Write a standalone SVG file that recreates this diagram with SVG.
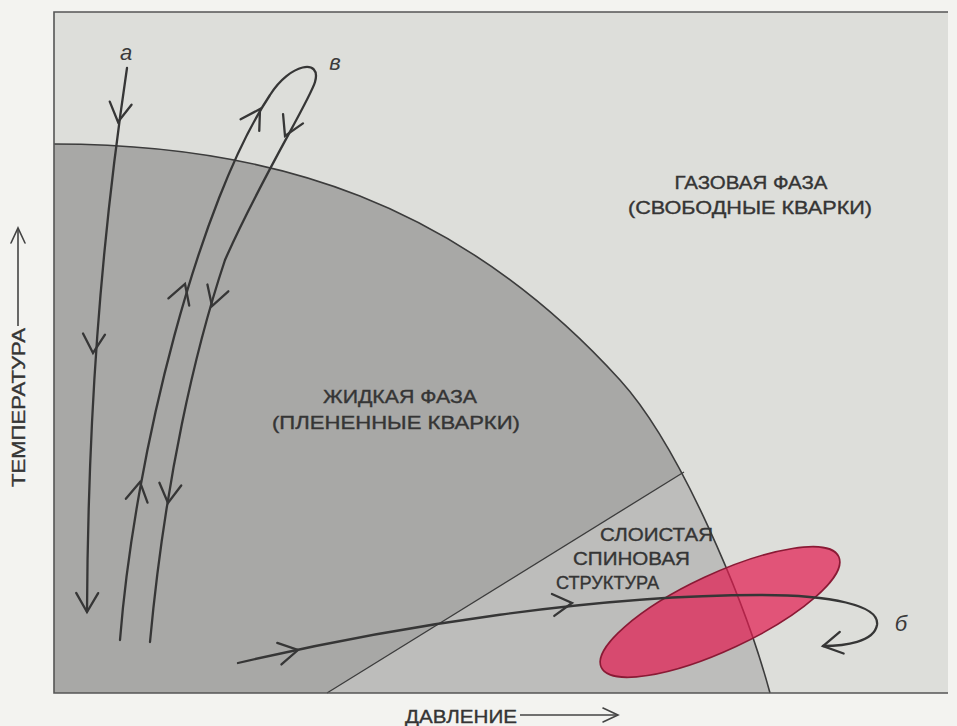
<svg xmlns="http://www.w3.org/2000/svg" xmlns:xlink="http://www.w3.org/1999/xlink" width="957" height="726" viewBox="0 0 957 726">
<style>
.traj{fill:none;stroke:#363636;stroke-width:2.3;stroke-linecap:round;stroke-linejoin:round}
.lbl{font-family:"Liberation Sans",Arial,sans-serif;fill:#353535;stroke:#353535;stroke-width:0.35;font-size:18px}
.it{font-family:"Liberation Sans",Arial,sans-serif;fill:#3a3a3a;font-style:italic;font-size:22px}
.bd{fill:none;stroke:#3c3c3c;stroke-width:1.6}
</style>
<defs>
<path id="chev" d="M-19,-11 L0,0 L-19,11" fill="none" stroke="#363636" stroke-width="2.3" stroke-linecap="round" stroke-linejoin="miter"/>
<path id="achev" d="M-15,-7 L0,0 L-15,7" fill="none" stroke="#444" stroke-width="1.6" stroke-linecap="round"/>
<clipPath id="liq"><path d="M54,144 C275,144 460,204 620,380 C680,446 745,600.5 770,693 L54,693 Z"/></clipPath>
</defs>
<rect x="0" y="0" width="957" height="726" fill="#f3f3f0"/>
<g id="gas-region"><rect x="54" y="12" width="894" height="681" fill="#dddeda"/></g>
<g id="liquid-region"><path d="M54,144 C275,144 460,204 620,380 C680,446 745,600.5 770,693 L54,693 Z" fill="#a8a8a6"/></g>
<g id="layered-region"><polygon points="327,693 684,472 820,388 820,693" fill="#bdbdbb" clip-path="url(#liq)"/>
<line x1="327" y1="693" x2="684" y2="472" stroke="#3c3c3c" stroke-width="1.3"/></g>
<g id="phase-boundary"><path class="bd" d="M54,144 C275,144 460,204 620,380 C680,446 745,600.5 770,693"/></g>
<g id="frame"><path d="M948,12 L54,12 L54,693 L948,693" fill="none" stroke="#555" stroke-width="1.6"/></g>
<g id="spin-ellipse"><ellipse cx="720" cy="612" rx="131" ry="38" transform="rotate(-25 720 612)" fill="#e2194f" fill-opacity="0.7" stroke="#8a1a35" stroke-width="1.6"/></g>
<g id="connectors">
<path id="traj-a" class="traj" d="M127,68 C100,250 88,420 87,612"/>
<path id="traj-v" class="traj" d="M120,640 C135,450 200,200 270,95 C290,63 322,58 315,82 C310,100 260,180 225,260 C195,350 165,480 150,642"/>
<path id="traj-b" class="traj" d="M238,663 C400,625 600,595 760,595 C830,595 880,605 877,625 C874,642 845,646 823,646"/>
<use xlink:href="#chev" transform="translate(118,122) rotate(98)"/>
<use xlink:href="#chev" transform="translate(93,353) rotate(93)"/>
<use xlink:href="#chev" transform="translate(87,612) rotate(90.5)"/>
<use xlink:href="#chev" transform="translate(140,482) rotate(-80)"/>
<use xlink:href="#chev" transform="translate(185,284) rotate(-71)"/>
<use xlink:href="#chev" transform="translate(260,109) rotate(-58)"/>
<use xlink:href="#chev" transform="translate(285,136) rotate(115)"/>
<use xlink:href="#chev" transform="translate(212,306) rotate(108)"/>
<use xlink:href="#chev" transform="translate(168,503) rotate(97)"/>
<use xlink:href="#chev" transform="translate(298,650) rotate(-11)"/>
<use xlink:href="#chev" transform="translate(572,603) rotate(-6)"/>
<use xlink:href="#chev" transform="translate(823,646) rotate(170)"/>
</g>
<g id="labels">
<text class="it" x="126" y="60" text-anchor="middle">a</text>
<text class="it" x="335" y="70" text-anchor="middle">в</text>
<text class="it" x="901" y="631" text-anchor="middle">б</text>
<text class="lbl" x="751" y="189" text-anchor="middle" textLength="153" lengthAdjust="spacingAndGlyphs">ГАЗОВАЯ ФАЗА</text>
<text class="lbl" x="750" y="214" text-anchor="middle" textLength="244" lengthAdjust="spacingAndGlyphs">(СВОБОДНЫЕ КВАРКИ)</text>
<text class="lbl" x="400" y="403" text-anchor="middle" textLength="154" lengthAdjust="spacingAndGlyphs">ЖИДКАЯ ФАЗА</text>
<text class="lbl" x="396" y="429" text-anchor="middle" textLength="248" lengthAdjust="spacingAndGlyphs">(ПЛЕНЕННЫЕ КВАРКИ)</text>
<text class="lbl" x="600" y="541" textLength="113" lengthAdjust="spacingAndGlyphs">СЛОИСТАЯ</text>
<text class="lbl" x="573" y="565" textLength="117" lengthAdjust="spacingAndGlyphs">СПИНОВАЯ</text>
<text class="lbl" x="556" y="589" textLength="103" lengthAdjust="spacingAndGlyphs">СТРУКТУРА</text>
</g>
<g id="axis-temperature">
<text class="lbl" transform="translate(25,407.5) rotate(-90)" text-anchor="middle" textLength="159" lengthAdjust="spacingAndGlyphs">ТЕМПЕРАТУРА</text>
<line x1="18" y1="326" x2="18" y2="228" stroke="#444" stroke-width="1.6"/>
<use xlink:href="#achev" transform="translate(18,228) rotate(-90)"/>
</g>
<g id="axis-pressure">
<text class="lbl" x="405" y="723" textLength="112" lengthAdjust="spacingAndGlyphs">ДАВЛЕНИЕ</text>
<line x1="520" y1="715" x2="618" y2="715" stroke="#444" stroke-width="1.6"/>
<use xlink:href="#achev" transform="translate(618,715)"/>
</g>
</svg>
